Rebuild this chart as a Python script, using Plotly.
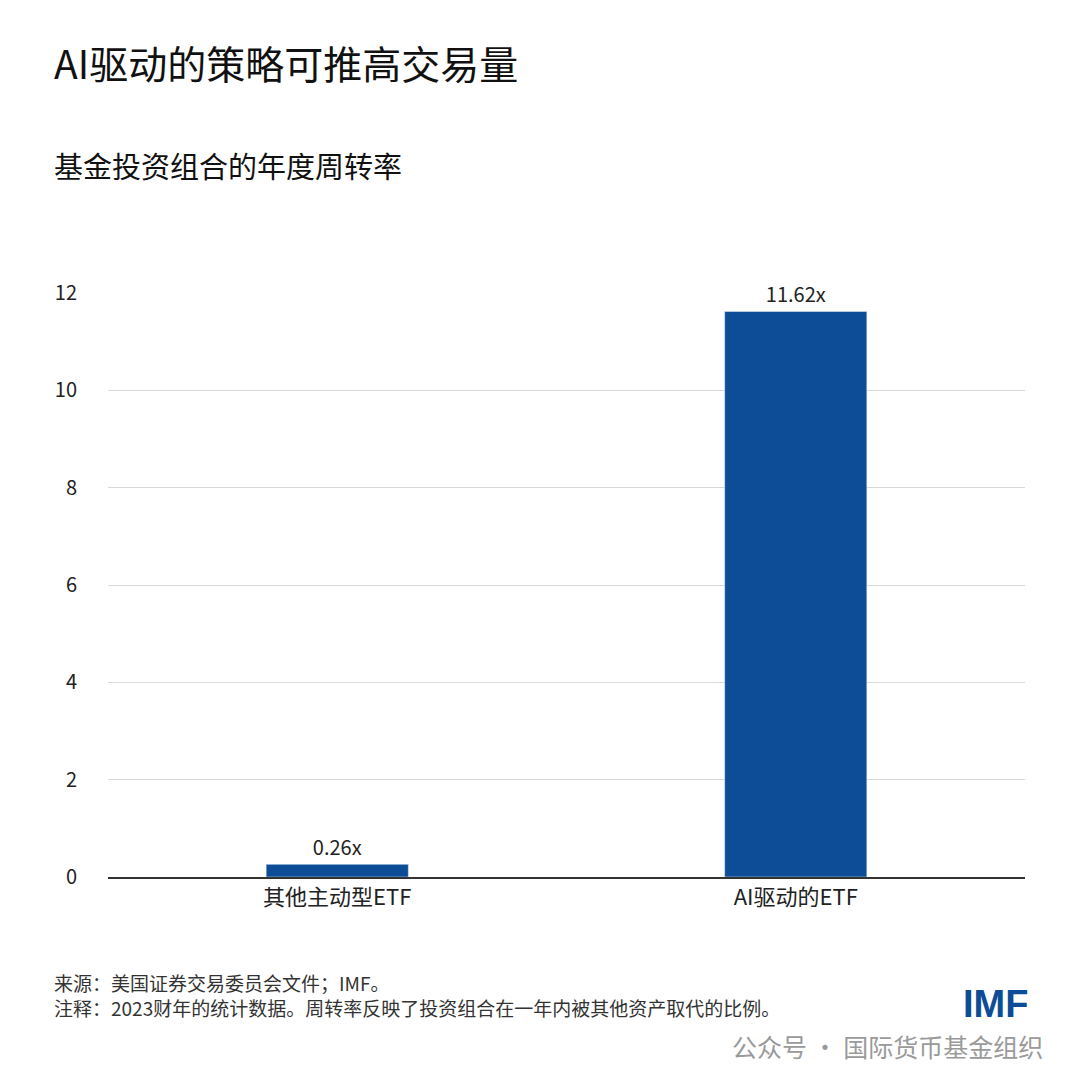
import plotly.graph_objects as go

categories = ["其他主动型ETF", "AI驱动的ETF"]
turnover = [0.26, 11.62]
labels = ["0.26x", "11.62x"]
y_ticks = [0, 2, 4, 6, 8, 10, 12]

FONT = "Noto Sans CJK SC"
BLUE = "#0d4c97"
OFF = 8  # page body margin shifts the figure

L, R, T, B = 108 - OFF, 55 + OFF, 293 - OFF, 203 + OFF

fig = go.Figure()
fig.add_trace(go.Bar(
    x=categories, y=turnover, text=labels, textposition="outside",
    marker_color=BLUE, cliponaxis=False,
    textfont=dict(size=20, color="#222222", family=FONT),
))

fig.update_layout(
    width=1080, height=1080,
    paper_bgcolor="white", plot_bgcolor="white",
    margin=dict(l=L, r=R, t=T, b=B),
    bargap=0.69, showlegend=False,
    font=dict(family=FONT, color="#222222"),
    yaxis=dict(range=[0, 12], tickvals=y_ticks, showgrid=True, gridcolor="#d9d9d9",
               zeroline=False, ticklabelstandoff=30, tickfont=dict(size=20)),
    xaxis=dict(showline=True, linecolor="#333333", linewidth=1.5,
               tickfont=dict(size=22)),
)

texts = [
    (52, 62, "AI驱动的策略可推高交易量", 39, "#111111", "left", FONT),
    (52, 165, "基金投资组合的年度周转率", 29, "#111111", "left", FONT),
    (52, 995, "来源：美国证券交易委员会文件；IMF。<br>注释：2023财年的统计数据。周转率反映了投资组合在一年内被其他资产取代的比例。",
     19, "#333333", "left", FONT),
    (1030, 1004, "<b>IMF</b>", 38, BLUE, "right", "Liberation Sans"),
    (1045, 1046, "公众号 · 国际货币基金组织", 25, "#9a9a9a", "right", FONT),
]
pw, ph = 1080 - L - R, 1080 - T - B
for px, py, txt, size, color, anchor, fam in texts:
    fig.add_annotation(
        xref="paper", yref="paper",
        x=(px - OFF - L) / pw, y=(1080 - B - (py - OFF)) / ph,
        text=txt, showarrow=False, xanchor=anchor, yanchor="middle", align="left",
        font=dict(size=size, color=color, family=fam),
    )

fig.write_html("out.html")
